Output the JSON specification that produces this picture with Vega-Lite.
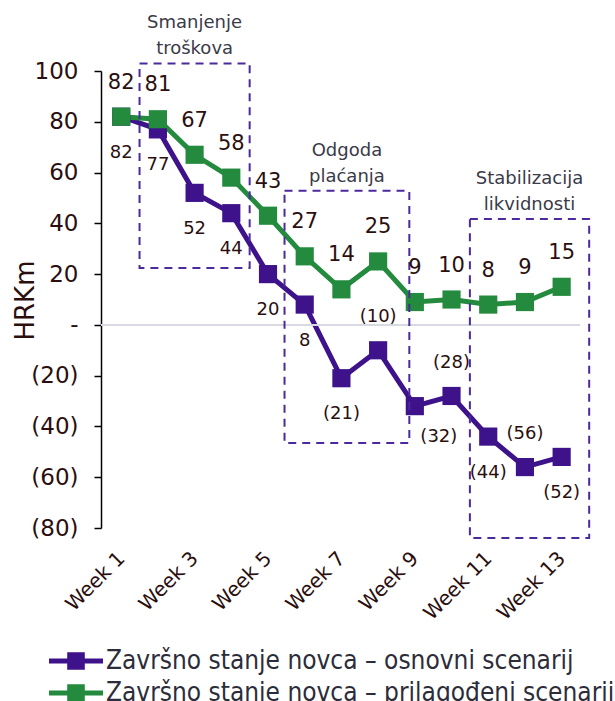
{
  "$schema": "https://vega.github.io/schema/vega-lite/v6.json",
  "width": 479,
  "height": 457,
  "autosize": {"type": "none"},
  "padding": {"left": 101, "top": 71, "right": 35, "bottom": 173},
  "background": "white",
  "config": {"view": {"stroke": null}, "font": "DejaVu Sans"},
  "datasets": {
    "series": [
      {"week": 1, "series": "Završno stanje novca – osnovni scenarij", "value": 82},
      {"week": 2, "series": "Završno stanje novca – osnovni scenarij", "value": 77},
      {"week": 3, "series": "Završno stanje novca – osnovni scenarij", "value": 52},
      {"week": 4, "series": "Završno stanje novca – osnovni scenarij", "value": 44},
      {"week": 5, "series": "Završno stanje novca – osnovni scenarij", "value": 20},
      {"week": 6, "series": "Završno stanje novca – osnovni scenarij", "value": 8},
      {"week": 7, "series": "Završno stanje novca – osnovni scenarij", "value": -21},
      {"week": 8, "series": "Završno stanje novca – osnovni scenarij", "value": -10},
      {"week": 9, "series": "Završno stanje novca – osnovni scenarij", "value": -32},
      {"week": 10, "series": "Završno stanje novca – osnovni scenarij", "value": -28},
      {"week": 11, "series": "Završno stanje novca – osnovni scenarij", "value": -44},
      {"week": 12, "series": "Završno stanje novca – osnovni scenarij", "value": -56},
      {"week": 13, "series": "Završno stanje novca – osnovni scenarij", "value": -52},
      {"week": 1, "series": "Završno stanje novca – prilagođeni scenarij", "value": 82},
      {"week": 2, "series": "Završno stanje novca – prilagođeni scenarij", "value": 81},
      {"week": 3, "series": "Završno stanje novca – prilagođeni scenarij", "value": 67},
      {"week": 4, "series": "Završno stanje novca – prilagođeni scenarij", "value": 58},
      {"week": 5, "series": "Završno stanje novca – prilagođeni scenarij", "value": 43},
      {"week": 6, "series": "Završno stanje novca – prilagođeni scenarij", "value": 27},
      {"week": 7, "series": "Završno stanje novca – prilagođeni scenarij", "value": 14},
      {"week": 8, "series": "Završno stanje novca – prilagođeni scenarij", "value": 25},
      {"week": 9, "series": "Završno stanje novca – prilagođeni scenarij", "value": 9},
      {"week": 10, "series": "Završno stanje novca – prilagođeni scenarij", "value": 10},
      {"week": 11, "series": "Završno stanje novca – prilagođeni scenarij", "value": 8},
      {"week": 12, "series": "Završno stanje novca – prilagođeni scenarij", "value": 9},
      {"week": 13, "series": "Završno stanje novca – prilagođeni scenarij", "value": 15}
    ],
    "boxes": [
      {"x1": 1.5, "x2": 4.5, "y1": 103, "y2": 22.4, "label": "Smanjenje\ntroškova"},
      {"x1": 5.45, "x2": 8.85, "y1": 52.8, "y2": -46.5, "label": "Odgoda\nplaćanja"},
      {"x1": 10.5, "x2": 13.75, "y1": 41.7, "y2": -83.9, "label": "Stabilizacija\nlikvidnosti"}
    ]
  },
  "layer": [
    {
      "data": {"name": "series"},
      "mark": {"type": "line", "strokeWidth": 5, "point": {"shape": "square", "size": 330, "filled": true, "opacity": 1}},
      "encoding": {
        "x": {
          "field": "week", "type": "quantitative",
          "scale": {"domain": [0.45, 13.5], "nice": false, "zero": false},
          "axis": {
            "values": [1, 3, 5, 7, 9, 11, 13],
            "labelExpr": "'Week ' + datum.value",
            "labelAngle": -45, "labelAlign": "right", "labelBaseline": "middle",
            "labelOverlap": false, "labelBound": false, "labelFlush": false,
            "labelPadding": 27, "ticks": false, "domain": false, "grid": false, "title": null,
            "labelFontSize": 20, "labelColor": "#2b0f0f", "labelFont": "DejaVu Sans"
          }
        },
        "y": {
          "field": "value", "type": "quantitative",
          "scale": {"domain": [-80, 100], "nice": false, "zero": false},
          "axis": {
            "title": "HRKm",
            "values": [-80, -60, -40, -20, 0, 20, 40, 60, 80, 100],
            "labelExpr": "datum.value == 0 ? '-' : (datum.value < 0 ? '(' + (-datum.value) + ')' : '' + datum.value)",
            "labelFont": "DejaVu Sans", "labelFontSize": 23, "labelColor": "#2b0f0f",
            "labelOverlap": false,
            "tickColor": "#000000", "tickSize": 7, "tickWidth": 1.5,
            "domainColor": "#000000", "domainWidth": 1.5, "labelPadding": 16, "grid": false,
            "titleFont": "DejaVu Sans", "titleFontSize": 26, "titleColor": "#2b0f0f", "titleFontWeight": "normal",
            "titleX": -76, "titleY": 229, "titleAngle": -90, "titleAlign": "center", "titleBaseline": "middle"
          }
        },
        "color": {
          "field": "series", "type": "nominal",
          "scale": {"domain": ["Završno stanje novca – osnovni scenarij", "Završno stanje novca – prilagođeni scenarij"], "range": ["#3d128a", "#238a3e"]},
          "legend": {
            "orient": "none", "legendX": -38, "legendY": 577, "title": null,
            "symbolType": "M-3,0H3M-0.7,-0.7H0.7V0.7H-0.7Z", "symbolSize": 324, "symbolStrokeWidth": 5,
            "labelOffset": 17, "labelFont": "DejaVu Sans Condensed", "labelFontSize": 26, "labelColor": "#2d2d3a",
            "labelLimit": 700, "rowPadding": -2, "padding": 0, "direction": "vertical",
            "encode": {"symbols": {"update": {"fill": {"scale": "color", "field": "value"}, "fillOpacity": {"value": 1}}}}
          }
        }
      }
    },
    {
      "data": {"name": "series"},
      "mark": {"type": "rule", "color": "#d9d9e0", "strokeWidth": 1.5},
      "encoding": {
        "y": {"datum": 0, "type": "quantitative", "scale": {"domain": [-80, 100], "nice": false, "zero": false}}
      }
    },
    {
      "data": {"name": "boxes"},
      "mark": {"type": "rect", "fill": null, "fillOpacity": 0, "stroke": "#4b2a9c", "strokeWidth": 2, "strokeDash": [8, 6]},
      "encoding": {
        "x": {"field": "x1", "type": "quantitative", "scale": {"domain": [0.45, 13.5], "nice": false, "zero": false}, "title": null},
        "x2": {"field": "x2"},
        "y": {"field": "y1", "type": "quantitative", "scale": {"domain": [-80, 100], "nice": false, "zero": false}, "title": "HRKm"},
        "y2": {"field": "y2"}
      }
    },
    {
      "data": {"name": "boxes"},
      "transform": [{"calculate": "(datum.x1 + datum.x2) / 2", "as": "xc"}],
      "mark": {"type": "text", "lineBreak": "\n", "baseline": "bottom", "align": "center", "dy": -31, "lineHeight": 26, "fontSize": 18, "color": "#3a3a48", "font": "DejaVu Sans"},
      "encoding": {
        "x": {"field": "xc", "type": "quantitative", "scale": {"domain": [0.45, 13.5], "nice": false, "zero": false}, "title": null},
        "y": {"field": "y1", "type": "quantitative", "scale": {"domain": [-80, 100], "nice": false, "zero": false}, "title": "HRKm"},
        "text": {"field": "label"}
      }
    },
    {
      "data": {"name": "series"},
      "transform": [
        {"filter": "datum.series == 'Završno stanje novca – prilagođeni scenarij'"},
        {"calculate": "datum.value < 0 ? '(' + (-datum.value) + ')' : '' + datum.value", "as": "label"}
      ],
      "mark": {"type": "text", "fontSize": 21, "color": "#2b0f0f", "baseline": "middle", "align": "center", "dy": -34, "font": "DejaVu Sans"},
      "encoding": {
        "x": {"field": "week", "type": "quantitative", "scale": {"domain": [0.45, 13.5], "nice": false, "zero": false}, "title": null},
        "y": {"field": "value", "type": "quantitative", "scale": {"domain": [-80, 100], "nice": false, "zero": false}, "title": "HRKm"},
        "text": {"field": "label"}
      }
    },
    {
      "data": {"name": "series"},
      "transform": [
        {"filter": "datum.series == 'Završno stanje novca – osnovni scenarij' && indexof([8, 9, 10, 12], datum.week) < 0"},
        {"calculate": "datum.value < 0 ? '(' + (-datum.value) + ')' : '' + datum.value", "as": "label"}
      ],
      "mark": {"type": "text", "fontSize": 18, "color": "#2b0f0f", "baseline": "middle", "align": "center", "dy": 36, "font": "DejaVu Sans"},
      "encoding": {
        "x": {"field": "week", "type": "quantitative", "scale": {"domain": [0.45, 13.5], "nice": false, "zero": false}, "title": null},
        "y": {"field": "value", "type": "quantitative", "scale": {"domain": [-80, 100], "nice": false, "zero": false}, "title": "HRKm"},
        "text": {"field": "label"}
      }
    },
    {
      "data": {"name": "series"},
      "transform": [
        {"filter": "datum.series == 'Završno stanje novca – osnovni scenarij' && indexof([8, 10, 12], datum.week) >= 0"},
        {"calculate": "datum.value < 0 ? '(' + (-datum.value) + ')' : '' + datum.value", "as": "label"}
      ],
      "mark": {"type": "text", "fontSize": 18, "color": "#2b0f0f", "baseline": "middle", "align": "center", "dy": -33, "font": "DejaVu Sans"},
      "encoding": {
        "x": {"field": "week", "type": "quantitative", "scale": {"domain": [0.45, 13.5], "nice": false, "zero": false}, "title": null},
        "y": {"field": "value", "type": "quantitative", "scale": {"domain": [-80, 100], "nice": false, "zero": false}, "title": "HRKm"},
        "text": {"field": "label"}
      }
    },
    {
      "data": {"name": "series"},
      "transform": [
        {"filter": "datum.series == 'Završno stanje novca – osnovni scenarij' && datum.week == 9"},
        {"calculate": "datum.value < 0 ? '(' + (-datum.value) + ')' : '' + datum.value", "as": "label"}
      ],
      "mark": {"type": "text", "fontSize": 18, "color": "#2b0f0f", "baseline": "middle", "align": "center", "dx": 24, "dy": 31, "font": "DejaVu Sans"},
      "encoding": {
        "x": {"field": "week", "type": "quantitative", "scale": {"domain": [0.45, 13.5], "nice": false, "zero": false}, "title": null},
        "y": {"field": "value", "type": "quantitative", "scale": {"domain": [-80, 100], "nice": false, "zero": false}, "title": "HRKm"},
        "text": {"field": "label"}
      }
    }
  ]
}
